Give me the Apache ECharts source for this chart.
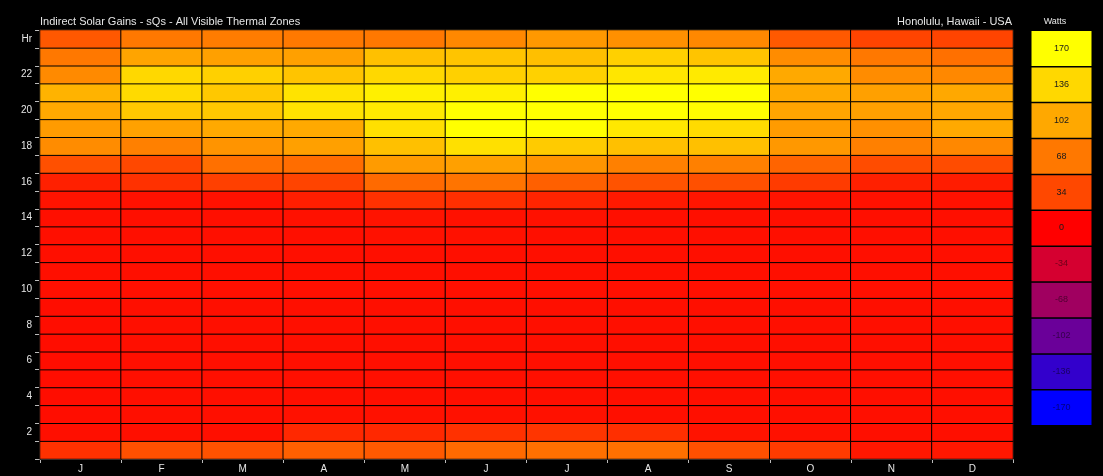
<!DOCTYPE html>
<html>
<head>
<meta charset="utf-8">
<script src="https://cdn.jsdelivr.net/npm/echarts@6/dist/echarts.min.js"></script>
<style>
html,body{margin:0;padding:0;background:#000;}
#c{width:1103px;height:476px;}
</style>
</head>
<body>
<div id="c"></div>
<script>
// ---- DATA ----
const titleText = 'Indirect Solar Gains - sQs - All Visible Thermal Zones';
const locationText = 'Honolulu, Hawaii - USA';
const unitText = 'Watts';
const monthLabels = ['J','F','M','A','M','J','J','A','S','O','N','D'];
const hourLabels = ['1','2','3','4','5','6','7','8','9','10','11','12','13','14','15','16','17','18','19','20','21','22','23','24'];
const legendValues = [-170,-136,-102,-68,-34,0,34,68,102,136,170];
const legendColors = ['#0000ff','#3300cc','#6a0099','#a00060','#d50030','#ff0000','#ff4800','#ff7800','#ffa800','#ffd800','#ffff00'];

// values per month, hour 1 .. hour 24 (Watts)
const jan = [23,7,6,6,6,6,6,6,6,7,7,7,7,7,9,15,40,82,93,103,110,81,68,45];
const feb = [40,7,7,7,7,7,7,7,7,7,7,7,7,7,8,23,34,74,97,125,138,136,99,68];
const mar = [41,7,7,7,7,7,7,7,7,7,7,7,7,7,8,30,62,88,103,125,125,130,96,71];
const apr = [51,19,8,7,7,7,7,7,7,7,7,7,7,8,14,32,60,96,103,146,146,122,96,69];
const may = [46,19,8,7,7,7,7,7,7,7,7,7,8,9,23,58,93,119,143,152,157,136,119,68];
const jun = [58,23,8,7,7,7,7,7,7,7,7,7,8,8,22,65,96,143,170,170,157,130,122,79];
const jul = [62,25,8,7,7,7,7,7,7,7,7,7,7,8,17,51,88,127,170,170,170,131,118,91];
const aug = [62,22,7,7,7,7,7,7,7,7,7,7,7,7,12,42,74,119,150,170,170,148,130,85];
const sep = [40,9,7,7,7,7,7,7,7,7,7,7,7,7,10,40,74,119,139,168,170,152,122,79];
const oct = [28,8,7,7,7,7,7,7,7,7,7,7,7,7,9,28,54,91,93,99,103,103,82,46];
const nov = [11,7,7,7,7,7,7,7,7,7,7,7,7,7,8,15,37,74,85,96,96,82,68,32];
const dec = [11,7,7,7,7,7,7,7,7,7,7,7,7,7,8,13,37,79,103,101,102,79,62,32];

// ---- BUILD ----
const monthly = [jan,feb,mar,apr,may,jun,jul,aug,sep,oct,nov,dec];
const cells = [];
monthly.forEach((arr, m) => arr.forEach((v, h) => cells.push([m, h, v])));
const legendCells = legendValues.map((v, i) => ({
  value: [0, i, v],
  label: { color: v >= 0 ? '#1a1a1a' : 'rgba(0,0,0,0.5)' }
}));

const chart = echarts.init(document.getElementById('c'), null, { renderer: 'canvas' });
const txt = '#e6e6e6';
const font = 'Liberation Sans';
chart.setOption({
  backgroundColor: '#000',
  animation: false,
  title: [
    { text: titleText, left: 40, top: 16, padding: 0, textStyle: { color: txt, fontSize: 11, fontWeight: 'normal', fontFamily: font } },
    { text: locationText, right: 91, top: 16, padding: 0, textStyle: { color: txt, fontSize: 11, fontWeight: 'normal', fontFamily: font } },
    { text: unitText, left: 1055, top: 17, padding: 0, textAlign: 'center', textStyle: { color: txt, fontSize: 9, fontWeight: 'normal', fontFamily: font } }
  ],
  grid: [
    { left: 40, right: 90, top: 30, bottom: 17, show: true, borderColor: '#cdbb98', borderWidth: 1, backgroundColor: 'transparent' },
    { left: 1031, top: 30.5, width: 61, height: 395, show: false }
  ],
  xAxis: [
    {
      type: 'category', gridIndex: 0, data: monthLabels,
      axisLine: { show: true, lineStyle: { color: '#dddddd' } },
      axisTick: { show: true, length: 4, lineStyle: { color: '#bbbbbb' } },
      axisLabel: { color: txt, fontSize: 10, fontFamily: font, margin: 5 },
      splitLine: { show: false }
    },
    { type: 'category', gridIndex: 1, data: ['w'], show: false }
  ],
  yAxis: [
    {
      type: 'category', gridIndex: 0, data: hourLabels,
      axisLine: { show: true, lineStyle: { color: '#dddddd' } },
      axisTick: { show: true, length: 5, interval: 0, lineStyle: { color: '#bbbbbb' } },
      axisLabel: {
        color: txt, fontSize: 10, fontFamily: font, margin: 8, interval: 0,
        formatter: v => v === '24' ? 'Hr' : (Number(v) % 2 === 0 ? v : '')
      },
      splitLine: { show: false }
    },
    { type: 'category', gridIndex: 1, data: legendValues.map(String), show: false }
  ],
  visualMap: {
    type: 'continuous', show: false, min: -170, max: 170, dimension: 2,
    seriesIndex: [0, 1],
    inRange: { color: legendColors }
  },
  series: [
    {
      type: 'heatmap', xAxisIndex: 0, yAxisIndex: 0, data: cells,
      itemStyle: { borderColor: '#000', borderWidth: 1 },
      emphasis: { disabled: true }
    },
    {
      type: 'heatmap', xAxisIndex: 1, yAxisIndex: 1, data: legendCells,
      itemStyle: { borderColor: '#000', borderWidth: 1.5 },
      label: { show: true, fontSize: 9, fontFamily: font, formatter: p => String(p.value[2]) },
      emphasis: { disabled: true }
    }
  ]
});
</script>
</body>
</html>
